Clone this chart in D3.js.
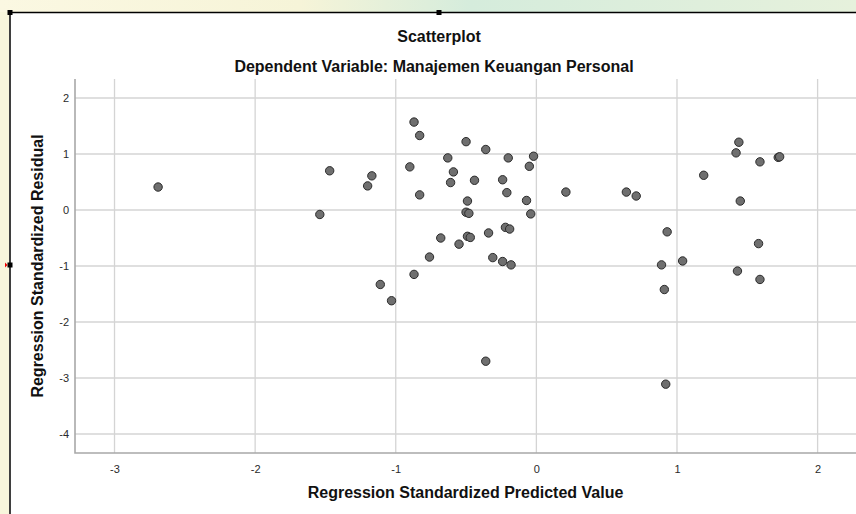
<!DOCTYPE html>
<html>
<head>
<meta charset="utf-8">
<script src="https://cdn.jsdelivr.net/npm/d3@7"></script>
<style>
  body { margin: 0; background: #fff; }
  svg { display: block; font-family: "Liberation Sans", Arial, sans-serif; }
  .grid line { stroke: #d4d4d4; stroke-width: 1.3; }
  .tick text { fill: #2a2a2a; font-size: 11px; }
</style>
</head>
<body>
<script>
'use strict';

// Regression standardized predicted value / residual pairs
const predicted = [
  -2.69, -1.47, -1.17, -1.20, -1.54, -1.11, -1.03,
  -0.87, -0.83, -0.50, -0.36, -0.63, -0.20, -0.02, -0.90, -0.05, -0.59,
  -0.61, -0.44, -0.24, -0.21, -0.83, 0.21, -0.49, -0.07, -0.50, -0.48,
  -0.04, -0.22, -0.19, -0.34, -0.68, -0.49, -0.47, -0.55, -0.76, -0.31,
  -0.24, -0.18, -0.87, -0.36,
  1.44, 1.42, 1.59, 1.72, 1.73, 1.19, 0.64, 0.71, 1.45, 0.93, 1.58,
  0.89, 1.04, 1.43, 1.59, 0.91, 0.92
];
const residual = [
  0.41, 0.70, 0.61, 0.43, -0.08, -1.33, -1.62,
  1.57, 1.33, 1.22, 1.08, 0.93, 0.93, 0.96, 0.77, 0.78, 0.68,
  0.49, 0.53, 0.54, 0.31, 0.27, 0.32, 0.16, 0.17, -0.04, -0.06,
  -0.07, -0.31, -0.34, -0.41, -0.50, -0.47, -0.49, -0.61, -0.84, -0.85,
  -0.92, -0.98, -1.15, -2.70,
  1.21, 1.02, 0.86, 0.94, 0.95, 0.62, 0.32, 0.25, 0.16, -0.39, -0.60,
  -0.98, -0.91, -1.09, -1.24, -1.42, -3.11
];
const xTicks = [-3, -2, -1, 0, 1, 2];
const yTicks = [2, 1, 0, -1, -2, -3, -4];

const W = 856, H = 514;
const plot = { left: 75, right: 856, top: 79, bottom: 453 };

const x = d3.scaleLinear().domain([-3.281, 2.273]).range([plot.left, plot.right]);
const y = d3.scaleLinear().domain([-4.339, 2.339]).range([plot.bottom, plot.top]);
const fmt = (d) => String(d);

const $svg = d3.select('body').append('svg').attr('width', W).attr('height', H);

// pale strip outside the frame
const grad = $svg.append('defs').append('linearGradient').attr('id', 'wm');
grad.append('stop').attr('offset', '0%').attr('stop-color', '#fbf8e2');
grad.append('stop').attr('offset', '35%').attr('stop-color', '#f6f4d8');
grad.append('stop').attr('offset', '55%').attr('stop-color', '#d5ecdc');
grad.append('stop').attr('offset', '100%').attr('stop-color', '#e6f1dc');
$svg.append('rect').attr('x', 0).attr('y', 0).attr('width', W).attr('height', 12).attr('fill', 'url(#wm)');
$svg.append('rect').attr('x', 0).attr('y', 12).attr('width', 9).attr('height', H - 12).attr('fill', '#f8f6dc');

// grid
const $grid = $svg.append('g').attr('class', 'grid');
$grid.selectAll('.vx').data(xTicks).enter().append('line')
  .attr('x1', (d) => x(d)).attr('x2', (d) => x(d))
  .attr('y1', plot.top).attr('y2', plot.bottom);
$grid.selectAll('.hy').data(yTicks).enter().append('line')
  .attr('x1', plot.left).attr('x2', plot.right)
  .attr('y1', (d) => y(d)).attr('y2', (d) => y(d));

// axes (labels only), axis lines drawn separately
$svg.append('g')
  .attr('transform', 'translate(0,' + plot.bottom + ')')
  .call(d3.axisBottom(x).tickValues(xTicks).tickFormat(fmt).tickSize(0).tickPadding(12))
  .call((g) => g.select('.domain').remove());
$svg.append('g')
  .attr('transform', 'translate(' + plot.left + ',0)')
  .call(d3.axisLeft(y).tickValues(yTicks).tickFormat(fmt).tickSize(0).tickPadding(6))
  .call((g) => g.select('.domain').remove());
$svg.selectAll('.tick text').attr('font-family', null).attr('font-size', null);

$svg.append('path')
  .attr('d', 'M' + plot.left + ',' + plot.top + 'V' + plot.bottom + 'H' + plot.right)
  .attr('fill', 'none').attr('stroke', '#a8a8a8').attr('stroke-width', 1.6);

// points
$svg.append('g').selectAll('circle')
  .data(predicted.map((d, i) => [d, residual[i]]))
  .enter()
  .append('circle')
  .attr('cx', (d) => x(d[0]))
  .attr('cy', (d) => y(d[1]))
  .attr('r', 4.2)
  .attr('fill', '#6f6f6f')
  .attr('stroke', '#2b2b2b')
  .attr('stroke-width', 1);

// titles
$svg.append('text').attr('x', 439).attr('y', 42).attr('text-anchor', 'middle')
  .attr('font-size', 16).attr('font-weight', 'bold').attr('fill', '#111').text('Scatterplot');
$svg.append('text').attr('x', 434).attr('y', 72).attr('text-anchor', 'middle')
  .attr('font-size', 16).attr('font-weight', 'bold').attr('fill', '#111')
  .text('Dependent Variable: Manajemen Keuangan Personal');
$svg.append('text').attr('x', (plot.left + plot.right) / 2).attr('y', 498).attr('text-anchor', 'middle')
  .attr('font-size', 16).attr('font-weight', 'bold').attr('fill', '#111')
  .text('Regression Standardized Predicted Value');
$svg.append('text')
  .attr('transform', 'translate(43,' + (plot.top + plot.bottom) / 2 + ') rotate(-90)')
  .attr('text-anchor', 'middle')
  .attr('font-size', 16).attr('font-weight', 'bold').attr('fill', '#111')
  .text('Regression Standardized Residual');

// selection frame with handles
$svg.append('path').attr('d', 'M10,' + H + 'V12.5H' + W)
  .attr('fill', 'none').attr('stroke', '#000').attr('stroke-width', 1.5);
$svg.selectAll('.handle').data([[10, 12.5], [439, 12.5], [10, 265]]).enter().append('rect')
  .attr('x', (d) => d[0] - 2.5).attr('y', (d) => d[1] - 2.5)
  .attr('width', 5).attr('height', 5).attr('fill', '#000');
$svg.append('path').attr('d', 'M5,262.5L7.5,265L5,267.5Z').attr('fill', '#e00');
</script>
</body>
</html>
